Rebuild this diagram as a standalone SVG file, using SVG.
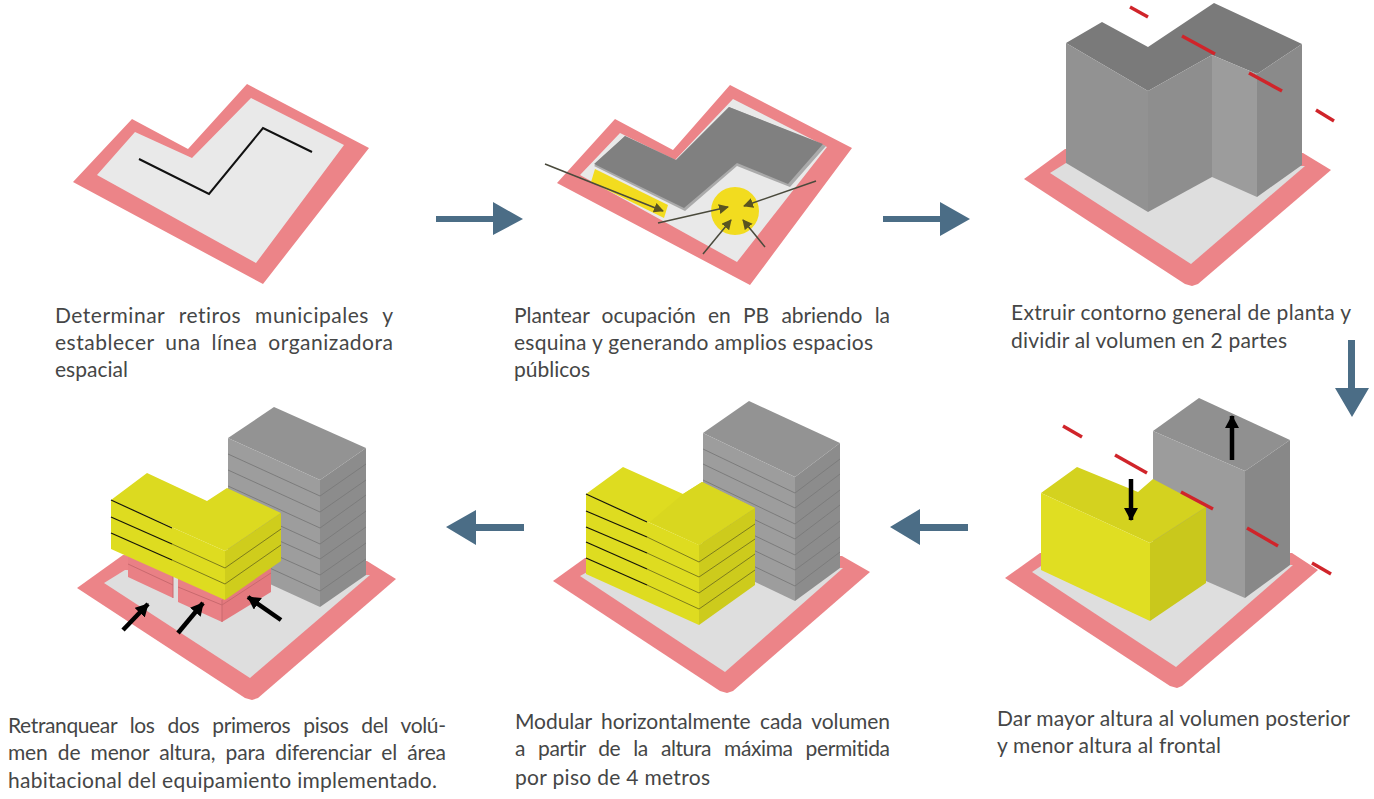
<svg xmlns="http://www.w3.org/2000/svg" width="1374" height="799" viewBox="0 0 1374 799">
<defs>
<style>
text{font-family:Lato,"Open Sans","Liberation Sans",sans-serif;font-size:21px;fill:#454646;font-variant-ligatures:none}
.pk{fill:#ec8488}.lt{fill:#e9e9e9}.gr{fill:#dedede}
.rd{stroke:#d0242a;stroke-width:3.4;fill:none}
.flow{fill:#4b6d86}
.fl{fill:none;stroke:#7c7c7c;stroke-width:1}
.yl{fill:none;stroke:#7d7c1c;stroke-width:1}
.bk{fill:none;stroke:#15150a;stroke-width:1.2}
.ar{stroke:#4a4a3c;stroke-width:1.5;fill:none;marker-end:url(#ah)}
.ba{stroke:#000;stroke-width:4.5;fill:none;marker-end:url(#bh)}
</style>
<marker id="ah" markerUnits="userSpaceOnUse" markerWidth="12" markerHeight="12" refX="9" refY="5" orient="auto"><path d="M0 0L10 5L0 10Z" fill="#5a5420"/></marker>
<marker id="bh" markerUnits="userSpaceOnUse" markerWidth="16" markerHeight="16" refX="12" refY="7" orient="auto"><path d="M0 0L13 7L0 14Z" fill="#000"/></marker>
</defs>
<rect width="1374" height="799" fill="#fff"/>

<g id="step1">
<polygon class="pk" points="247,84 369,148 263,284 73,182 132,119 188,149"/>
<polygon class="lt" points="251,98 344,145 256,263 97,175 135,132 192,158"/>
<polyline points="139,159 209,194 263,128 312,152" fill="none" stroke="#111" stroke-width="2"/>
<text x="55" y="323" textLength="338" style="word-spacing:8px">Determinar retiros municipales y</text>
<text x="55" y="350" textLength="338" style="word-spacing:5px">establecer una línea organizadora</text>
<text x="55" y="377">espacial</text>
</g>

<g id="step2">
<polygon class="pk" points="730,85 852,148 750,285 557,183 615,119 673,150"/>
<polygon class="lt" points="733,99 827,147 737,262 580,175 620,133 675,160"/>
<polygon fill="#aaa" points="729,107 826,146 790,187 737,166 685,211 594,166 625,136 676,160"/>
<polygon fill="#808080" points="729,107 823,144 788,184 737,163 684,208 594,164 625,136 676,160"/>
<polygon fill="#f2dc1f" points="595,169 668,205 664,218 591,182"/>
<circle cx="735" cy="211" r="24" fill="#f2dc1f"/>
<line class="ar" x1="545" y1="164" x2="663" y2="211"/>
<line class="ar" x1="658" y1="223" x2="728" y2="207"/>
<line class="ar" x1="816" y1="181" x2="744" y2="206"/>
<line class="ar" x1="703" y1="254" x2="731" y2="220"/>
<line class="ar" x1="765" y1="247" x2="743" y2="220"/>
<text x="514" y="323" textLength="376" style="word-spacing:7px">Plantear ocupación en PB abriendo la</text>
<text x="514" y="350" textLength="359">esquina y generando amplios espacios</text>
<text x="514" y="377">públicos</text>
</g>

<g id="step3">
<polygon class="pk" points="1024,179 1065,149 1303,153 1331,170 1198,284 1192,286 1185,284"/>
<polygon class="gr" points="1050,173 1066,163 1305,166 1191,264"/>
<polygon fill="#7a7a7a" points="1066,43 1102,22 1148,47 1214,3 1302,44 1257,74 1212,55 1148,91"/>
<polygon fill="#929292" points="1066,43 1148,91 1148,212 1066,163"/>
<polygon fill="#8e8e8e" points="1148,91 1212,55 1212,177 1148,212"/>
<polygon fill="#9c9c9c" points="1212,55 1257,74 1257,197 1212,177"/>
<polygon fill="#8a8a8a" points="1257,74 1302,44 1302,165 1257,197"/>
<line class="rd" x1="1130" y1="7" x2="1148" y2="17"/>
<line class="rd" x1="1182" y1="36" x2="1215" y2="54"/>
<line class="rd" x1="1249" y1="73" x2="1282" y2="91"/>
<line class="rd" x1="1316" y1="110" x2="1334" y2="121"/>
<text x="1011" y="320" textLength="340">Extruir contorno general de planta y</text>
<text x="1011" y="348" textLength="276">dividir al volumen en 2 partes</text>
</g>

<g id="step4">
<polygon class="pk" points="1005,578 1040,553 1292,553 1318,570 1182,686 1177,688 1170,686"/>
<polygon class="gr" points="1032,572 1050,560 1293,565 1176,667"/>
<polygon fill="#909090" points="1153,431 1199,398 1290,440 1245,471"/>
<polygon fill="#9c9c9c" points="1153,431 1245,471 1245,598 1153,558"/>
<polygon fill="#888" points="1245,471 1290,440 1290,565 1245,598"/>
<polygon fill="#d4d21f" points="1041,493 1077,467 1138,492 1153,479 1206,507 1150,543"/>
<polygon fill="#e0de22" points="1041,493 1150,543 1150,621 1041,570"/>
<polygon fill="#c9c81c" points="1150,543 1206,507 1206,583 1150,621"/>
<line class="rd" x1="1063" y1="426" x2="1082" y2="437"/>
<line class="rd" x1="1115" y1="455" x2="1147" y2="473"/>
<line class="rd" x1="1181" y1="492" x2="1213" y2="509"/>
<line class="rd" x1="1247" y1="528" x2="1278" y2="546"/>
<line class="rd" x1="1312" y1="563" x2="1331" y2="574"/>
<line class="ba" x1="1131" y1="479" x2="1131" y2="520"/>
<line class="ba" x1="1232" y1="460" x2="1232" y2="416"/>
<text x="997" y="726" textLength="353">Dar mayor altura al volumen posterior</text>
<text x="997" y="753" textLength="224">y menor altura al frontal</text>
</g>

<g id="step5">
<polygon class="pk" points="553,581 585,558 842,556 870,572 733,691 727,693 720,691"/>
<polygon class="gr" points="580,576 600,565 843,568 725,672"/>
<polygon fill="#939393" points="703,433 749,401 840,443 795,477"/>
<polygon fill="#9d9d9d" points="703,433 795,477 795,601 703,557"/>
<polygon fill="#8c8c8c" points="795,477 840,443 840,568 795,601"/>
<polyline class="fl" points="703,449 795,493 840,459"/>
<polyline class="fl" points="703,464 795,508 840,474"/>
<polyline class="fl" points="703,480 795,524 840,490"/>
<polyline class="fl" points="703,495 795,539 840,505"/>
<polyline class="fl" points="703,511 795,555 840,521"/>
<polyline class="fl" points="703,526 795,570 840,537"/>
<polyline class="fl" points="703,542 795,586 840,552"/>
<polygon fill="#dedc20" points="586,494 623,467 683,494 702,482 755,508 699,545"/>
<polygon fill="#d9d71f" points="650,522 683,494 702,482 755,508 699,545"/>
<polygon fill="#dedc20" points="586,494 699,545 699,625 586,574"/>
<polygon fill="#cdcb1c" points="699,545 755,508 755,585 699,625"/>
<polyline class="yl" points="647,537 699,562 755,524"/>
<polyline class="yl" points="647,553 699,577 755,539"/>
<polyline class="yl" points="647,569 699,593 755,554"/>
<polyline class="yl" points="647,585 699,609 755,570"/>
<line class="bk" x1="586" y1="494" x2="647" y2="522"/>
<line class="bk" x1="586" y1="511" x2="647" y2="537"/>
<line class="bk" x1="586" y1="527" x2="647" y2="553"/>
<line class="bk" x1="586" y1="542" x2="647" y2="569"/>
<line class="bk" x1="586" y1="558" x2="647" y2="585"/>
<text x="515" y="729" textLength="375" style="word-spacing:4px">Modular horizontalmente cada volumen</text>
<text x="515" y="756" textLength="375" style="word-spacing:8px">a partir de la altura máxima permitida</text>
<text x="515" y="785" textLength="195">por piso de 4 metros</text>
</g>

<g id="step6">
<polygon class="pk" points="77,588 123,555 367,561 396,579 258,698 252,700 245,698"/>
<polygon class="gr" points="104,583 125,570 370,575 250,678"/>
<polygon fill="#939393" points="228,438 274,407 366,448 320,480"/>
<polygon fill="#9d9d9d" points="228,438 320,480 320,607 228,565"/>
<polygon fill="#8c8c8c" points="320,480 366,448 366,575 320,607"/>
<polyline class="fl" points="228,454 320,496 366,464"/>
<polyline class="fl" points="228,470 320,512 366,480"/>
<polyline class="fl" points="228,486 320,528 366,495"/>
<polyline class="fl" points="228,502 320,544 366,511"/>
<polyline class="fl" points="228,518 320,559 366,527"/>
<polyline class="fl" points="228,534 320,575 366,543"/>
<polyline class="fl" points="228,549 320,591 366,559"/>
<polygon fill="#e98085" points="128,550 173,570 173,598 128,577"/>
<polyline points="128,564 173,585" fill="none" stroke="#c9696e"/>
<line x1="173" y1="575" x2="173" y2="598" stroke="#c96a6e"/>
<polygon fill="#e98085" points="178,575 222,595 222,622 178,602"/>
<polygon fill="#e4797e" points="222,595 271,560 271,592 222,622"/>
<polyline points="178,587 222,605 271,573" fill="none" stroke="#c9696e"/>
<line x1="222" y1="600" x2="222" y2="622" stroke="#c96a6e"/>
<polygon fill="#dcda20" points="111,500 147,473 207,501 227,488 281,513 225,551"/>
<polygon fill="#dedc20" points="111,500 225,551 225,600 111,549"/>
<polygon fill="#cfcd1c" points="225,551 281,513 281,561 225,600"/>
<polyline class="yl" points="172,544 225,568 281,529"/>
<polyline class="yl" points="172,560 225,584 281,545"/>
<line class="bk" x1="111" y1="500" x2="172" y2="528"/>
<line class="bk" x1="111" y1="517" x2="172" y2="544"/>
<line class="bk" x1="111" y1="533" x2="172" y2="560"/>
<line class="ba" x1="123" y1="630" x2="148" y2="604"/>
<line class="ba" x1="178" y1="633" x2="203" y2="603"/>
<line class="ba" x1="281" y1="620" x2="248" y2="597"/>
<text x="8" y="733" textLength="438" style="word-spacing:8px">Retranquear los dos primeros pisos del volú-</text>
<text x="8" y="760" textLength="438" style="word-spacing:5px">men de menor altura, para diferenciar el área</text>
<text x="8" y="788" textLength="429">habitacional del equipamiento implementado.</text>
</g>

<g id="connectors">
<path class="flow" d="M436 216H493V202L523 219L493 235V222H436Z"/>
<path class="flow" d="M883 216H940V202L970 219L940 236V222H883Z"/>
<path class="flow" d="M1348 340H1355V388H1369L1352 417L1335 388H1348Z"/>
<path class="flow" d="M524 524H476V510L446 527L476 545V531H524Z"/>
<path class="flow" d="M968 524H920V509L890 527L920 545V531H968Z"/>
</g>
</svg>
